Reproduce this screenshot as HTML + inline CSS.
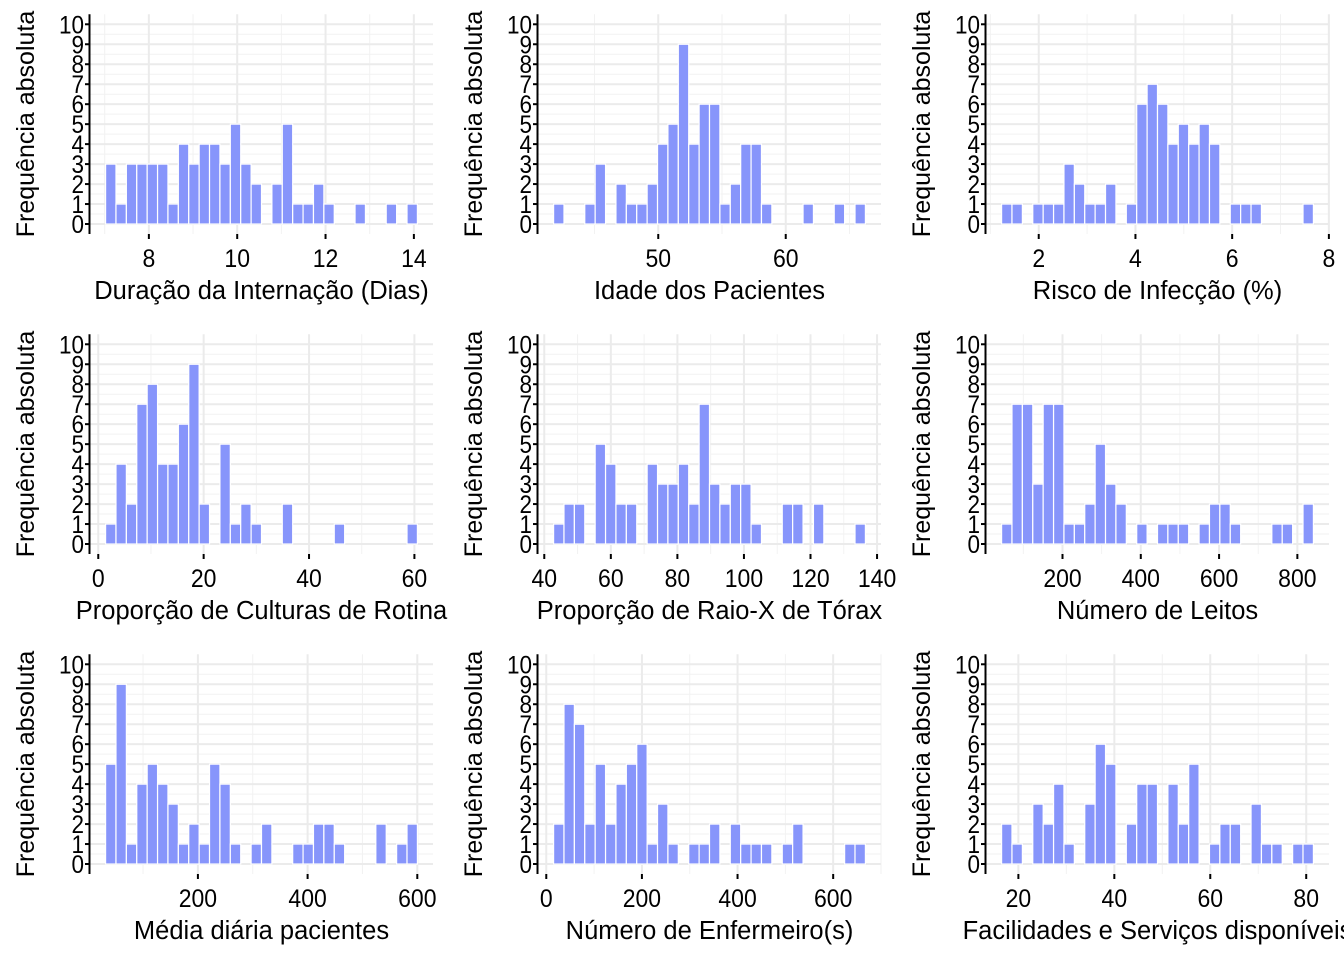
<!DOCTYPE html>
<html><head><meta charset="utf-8">
<style>
html,body{margin:0;padding:0;background:#fff;}
svg text{font-family:"Liberation Sans",Arial,sans-serif;fill:#000;}
</style></head>
<body>
<svg id="chart" width="1344" height="960" viewBox="0 0 1344 960" xmlns="http://www.w3.org/2000/svg"></svg>
<script>
const titles = ["Duração da Internação (Dias)","Idade dos Pacientes","Risco de Infecção (%)","Proporção de Culturas de Rotina","Proporção de Raio-X de Tórax","Número de Leitos","Média diária pacientes","Número de Enfermeiro(s)","Facilidades e Serviços disponíveis"];
const binLo = [7.02, 41.79, 1.232, 1.39, 42.8, 44.4, 31.7, 15.3, 16.5];
const binHi = [14.08, 66.25, 7.68, 60.57, 136.5, 841, 600.2, 667.4, 81.5];
const counts1 = [3,1,3,3,3,3,1,4,3,4,4,3,5,3,2,0,2,5,1,1,2,1,0,0,1,0,0,1,0,1];
const counts2 = [1,0,0,1,3,0,2,1,1,2,4,5,9,4,6,6,1,2,4,4,1,0,0,0,1,0,0,1,0,1];
const counts3 = [1,1,0,1,1,1,3,2,1,1,2,0,1,6,7,6,4,5,4,5,4,0,1,1,1,0,0,0,0,1];
const counts4 = [1,4,2,7,8,4,4,6,9,2,0,5,1,2,1,0,0,2,0,0,0,0,1,0,0,0,0,0,0,1];
const counts5 = [1,2,2,0,5,4,2,2,0,4,3,3,4,2,7,3,2,3,3,1,0,0,2,2,0,2,0,0,0,1];
const counts6 = [1,7,7,3,7,7,1,1,2,5,3,2,0,1,0,1,1,1,0,1,2,2,1,0,0,0,1,1,0,2];
const counts7 = [5,9,1,4,5,4,3,1,2,1,5,4,1,0,1,2,0,0,1,1,2,2,1,0,0,0,2,0,1,2];
const counts8 = [2,8,7,2,5,2,4,5,6,1,3,1,0,1,1,2,0,2,1,1,1,0,1,2,0,0,0,0,1,1];
const counts9 = [2,1,0,3,2,4,1,0,3,6,5,0,2,4,4,0,4,2,5,0,1,2,2,0,3,1,1,0,1,1];
const xTicks = [[8,10,12,14],[50,60],[2,4,6,8],[0,20,40,60],[40,60,80,100,120,140],[0,200,400,600,800],[0,200,400,600],[0,200,400,600],[20,40,60,80]];
const yTicks = [0,1,2,3,4,5,6,7,8,9,10];
const allCounts = [counts1,counts2,counts3,counts4,counts5,counts6,counts7,counts8,counts9];

const NS = "http://www.w3.org/2000/svg";
const svg = document.getElementById("chart");
function mk(tag, attrs, parent){const e=document.createElementNS(NS,tag);for(const k in attrs)e.setAttribute(k,attrs[k]);(parent||svg).appendChild(e);return e;}

const PL=90, PR=433, PT=14.3, PB=234;
for(let p=0;p<9;p++){
  const ox=(p%3)*448, oy=Math.floor(p/3)*320;
  const g=mk("g",{transform:`translate(${ox},${oy})`});
  
  
  const lo=binLo[p], hi=binHi[p], cnt=allCounts[p], n=cnt.length;
  const d0=lo-0.05*(hi-lo), d1=hi+0.05*(hi-lo);
  const xs=v=>PL+(v-d0)/(d1-d0)*(PR-PL);
  const ys=v=>PB-(v+0.5)/11*(PB-PT);
  for(let i=0;i<10;i++){mk("line",{x1:PL,x2:PR,y1:ys(i+0.5),y2:ys(i+0.5),stroke:"#f2f2f2","stroke-width":1},g);}
  const ticks=xTicks[p], step=ticks[1]-ticks[0];
  const minors=ticks.map(t=>t-step/2).concat([ticks[ticks.length-1]+step/2]);
  minors.forEach(m=>{if(m>=d0&&m<=d1)mk("line",{x1:xs(m),x2:xs(m),y1:PT,y2:PB,stroke:"#f2f2f2","stroke-width":1},g);});
  yTicks.forEach(t=>mk("line",{x1:PL,x2:PR,y1:ys(t),y2:ys(t),stroke:"#ebebeb","stroke-width":2},g));
  ticks.forEach(t=>{if(t>=d0&&t<=d1)mk("line",{x1:xs(t),x2:xs(t),y1:PT,y2:PB,stroke:"#ebebeb","stroke-width":2},g);});
  const bw=(hi-lo)/n;
  for(let i=0;i<n;i++){
    if(cnt[i]<=0)continue;
    const x0=xs(lo+i*bw), x1=xs(lo+(i+1)*bw);
    const r=mk("rect",{x:x0,y:ys(cnt[i]),width:x1-x0,height:ys(0)-ys(cnt[i]),fill:"#8795fb",stroke:"#ffffff","stroke-width":1.2},g);
    
    
  }
  const ya=mk("line",{x1:PL-0.5,x2:PL-0.5,y1:PT,y2:PB,stroke:"#000","stroke-width":2},g);
  
  
  yTicks.forEach(t=>{
    mk("line",{x1:PL-5,x2:PL,y1:ys(t),y2:ys(t),stroke:"#000","stroke-width":2},g);
    const tx=mk("text",{x:0,y:0,"text-anchor":"end","font-size":25,transform:`translate(${PL-6},${ys(t)+9}) scale(0.9,1)`},g);
    tx.textContent=t;
    
    
  });
  ticks.forEach(t=>{
    if(t<d0||t>d1)return;
    mk("line",{x1:xs(t),x2:xs(t),y1:PB,y2:PB+5,stroke:"#000","stroke-width":2},g);
    const tx=mk("text",{x:0,y:0,"text-anchor":"middle","font-size":25,transform:`translate(${xs(t)},267) scale(0.92,1)`},g);
    tx.textContent=t;
    
    
  });
  const xt=mk("text",{x:(PL+PR)/2+0,y:299,"text-anchor":"middle","font-size":25.5},g);
  xt.textContent=titles[p];
  
  
  const yt=mk("text",{x:0,y:0,"text-anchor":"middle","font-size":25,transform:"translate(34,124) rotate(-90)"},g);
  yt.textContent="Frequência absoluta";
  
  
}
</script>
</body></html>
